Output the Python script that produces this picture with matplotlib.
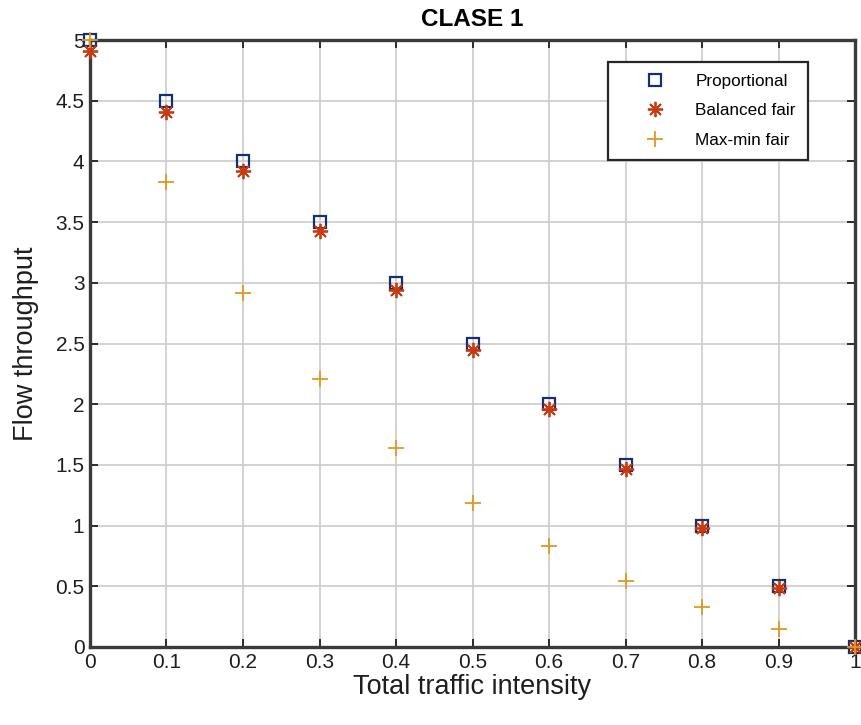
import numpy as np
import matplotlib.pyplot as plt

plt.rcParams['font.family'] = ['Liberation Sans', 'DejaVu Sans']

### data
intensity = [0, 0.1, 0.2, 0.3, 0.4, 0.5, 0.6, 0.7, 0.8, 0.9, 1.0]
proportional = [5, 4.5, 4.0, 3.5, 3.0, 2.5, 2.0, 1.5, 1.0, 0.5, 0]
balanced_fair = [4.91, 4.41, 3.92, 3.43, 2.94, 2.45, 1.96, 1.47, 0.98, 0.49, 0]
maxmin_fair = [5.0, 3.83, 2.92, 2.21, 1.64, 1.19, 0.83, 0.54, 0.33, 0.15, 0]

xticks = [0, 0.1, 0.2, 0.3, 0.4, 0.5, 0.6, 0.7, 0.8, 0.9, 1]
xticklabels = ['0', '0.1', '0.2', '0.3', '0.4', '0.5', '0.6', '0.7', '0.8', '0.9', '1']
yticks = [0, 0.5, 1, 1.5, 2, 2.5, 3, 3.5, 4, 4.5, 5]
yticklabels = ['0', '0.5', '1', '1.5', '2', '2.5', '3', '3.5', '4', '4.5', '5']

### open figure
fig = plt.figure(figsize=(8.62, 7.25), dpi=100)
ax = fig.add_axes([0.1044, 0.1076, 0.8875, 0.8372])

ax.plot(intensity, proportional, linestyle='none', marker='s', markersize=8,
        markerfacecolor='none', markeredgecolor='#15306e', markeredgewidth=1.6,
        label='Proportional', clip_on=False, zorder=3)
ax.plot(intensity, balanced_fair, linestyle='none', marker=(8, 2, 0), markersize=11,
        markeredgecolor='#c83a10', markeredgewidth=1.3,
        label='Balanced fair', clip_on=False, zorder=4)
ax.plot(intensity, maxmin_fair, linestyle='none', marker='+', markersize=12,
        markeredgecolor='#dc9a22', markeredgewidth=1.3,
        label='Max-min fair', clip_on=False, zorder=5)

### axes styling, matlab-ish
ax.set_xlim(0, 1)
ax.set_ylim(0, 5)
ax.set_xticks(xticks)
ax.set_xticklabels(xticklabels)
ax.set_yticks(yticks)
ax.set_yticklabels(yticklabels)
ax.tick_params(direction='in', length=6, width=1.3, top=True, right=True,
               labelsize=15, colors='#1e1e1e', pad=4)
ax.grid(True, color='#cbcbcb', linewidth=1.2)
ax.set_axisbelow(True)
for sp in ax.spines.values():
    sp.set_linewidth(2.4)
    sp.set_color('#3a3a3a')

ax.set_xlabel('Total traffic intensity', fontsize=19.5, color='#1e1e1e', labelpad=2)
ax.set_ylabel('Flow throughput', fontsize=19.5, color='#1e1e1e', labelpad=12)
ax.set_title('CLASE 1', fontsize=17.5, fontweight='bold', pad=10)

leg = ax.legend(loc='upper right', bbox_to_anchor=(0.938, 0.964), fontsize=12.3,
                frameon=True, fancybox=False, borderpad=0.7, labelspacing=0.85,
                handlelength=4.1, handletextpad=0.3, borderaxespad=0)
leg.get_frame().set_edgecolor('#262626')
leg.get_frame().set_linewidth(1.6)
leg.get_frame().set_alpha(1)

plt.savefig('out.png', dpi=100)
